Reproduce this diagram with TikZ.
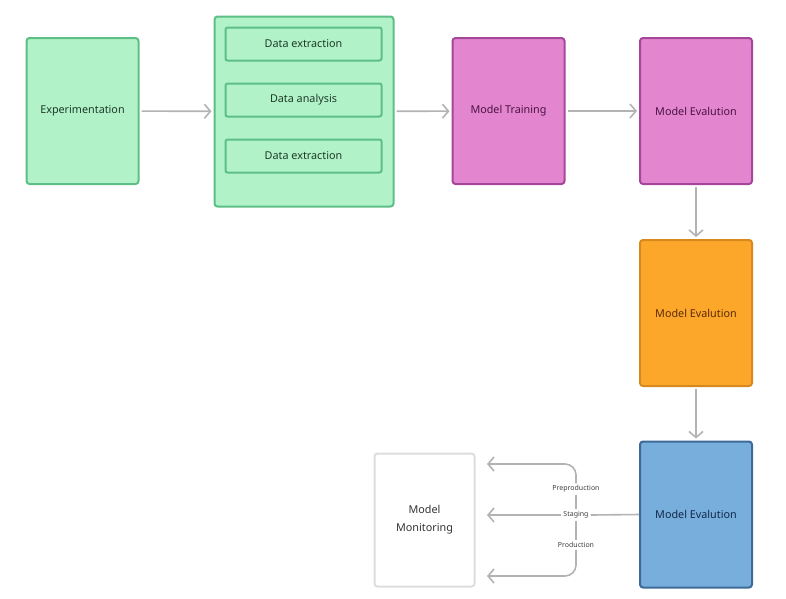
\documentclass[tikz,border=0pt]{standalone}
\usepackage{fontspec}
\setmainfont{Noto Sans}
\usetikzlibrary{arrows.meta}

\definecolor{greenfill}{HTML}{B1F2C9}
\definecolor{greenline}{HTML}{5DBF86}
\definecolor{greentext}{HTML}{1E3A28}
\definecolor{pinkfill}{HTML}{E386CF}
\definecolor{pinkline}{HTML}{A6469A}
\definecolor{pinktext}{HTML}{4A1242}
\definecolor{orangefill}{HTML}{FCA62A}
\definecolor{orangeline}{HTML}{D8891B}
\definecolor{orangetext}{HTML}{5A2D05}
\definecolor{bluefill}{HTML}{78AEDB}
\definecolor{blueline}{HTML}{3D6A99}
\definecolor{bluetext}{HTML}{10294A}
\definecolor{greyline}{HTML}{DDDDDD}
\definecolor{arrowgrey}{HTML}{B3B3B3}

\tikzset{
  stage/.style={draw, line width=2pt, rounded corners=3pt, minimum width=112pt,
    minimum height=146pt, font=\fontsize{10.8}{13}\selectfont, align=center},
  substage/.style={draw=greenline, fill=greenfill, line width=2pt, rounded corners=2pt,
    minimum width=156pt, minimum height=33pt, text=greentext, font=\fontsize{10.8}{13}\selectfont},
  conn/.style={arrowgrey, line width=1.6pt},
  arr/.style={-{Straight Barb[length=6pt,width=14pt,line width=1.6pt]}},
  tag/.style={fill=white, inner sep=2pt, text=black!75, font=\fontsize{7}{8}\selectfont}
}

\begin{document}
\begin{tikzpicture}[x=1pt,y=-1pt]
			\useasboundingbox (0,0) rectangle (786,598);
			% top row
			\node[stage, fill=greenfill, draw=greenline, text=greentext] (exp) at (82.5,111) {Experimentation};
			\node[stage, fill=greenfill, draw=greenline, minimum width=179pt, minimum height=190pt] (prep) at (304,111.5) {};
			\node[substage] (ext1) at (303.5,44) {Data extraction};
			\node[substage] (ana) at (303.5,100) {Data analysis};
			\node[substage] (ext2) at (303.5,156) {Data extraction};
			\node[stage, fill=pinkfill, draw=pinkline, text=pinktext] (train) at (508.5,111) {Model Training};
			\node[stage, fill=pinkfill, draw=pinkline, text=pinktext] (eval) at (696,111) {Model Evalution};
			% right column
			\node[stage, fill=orangefill, draw=orangeline, text=orangetext] (deploy) at (696,313) {Model Evalution};
			\node[stage, fill=bluefill, draw=blueline, text=bluetext] (serve) at (696,514.5) {Model Evalution};
			\node[stage, fill=white, draw=greyline, text=black!80, minimum width=100pt, minimum height=133pt] (monitor) at (424.5,520) {Model\\[5pt]Monitoring};

			\draw[conn, arr, shorten <=2pt, shorten >=2pt] (exp) -- (prep);
			\draw[conn, arr, shorten <=2pt, shorten >=2pt] (prep) -- (train);
			\draw[conn, arr, shorten <=2pt, shorten >=2pt] (train) -- (eval);
			\draw[conn, arr, shorten <=2pt, shorten >=2pt] (eval) -- (deploy);
			\draw[conn, arr, shorten <=2pt, shorten >=2pt] (deploy) -- (serve);

			% environments
			\node[tag] (pre) at (576,489) {Preproduction};
			\node[tag] (stg) at (576,515) {Staging};
			\node[tag] (prod) at (576,545) {Production};
			\coordinate (m1) at (487,464);
			\coordinate (m2) at (487,515);
			\coordinate (m3) at (487,576);
			\draw[conn] (serve.west) -- (stg.east);
			\draw[conn, arr] (stg.west) -- (m2);
			\draw[conn, arr, rounded corners=11pt] (pre.north) |- (m1);
			\draw[conn, arr, rounded corners=11pt] (prod.south) |- (m3);
			\draw[conn] (pre.south) -- (stg.north);
			\draw[conn] (stg.south) -- (prod.north);
		\end{tikzpicture}
\end{document}
